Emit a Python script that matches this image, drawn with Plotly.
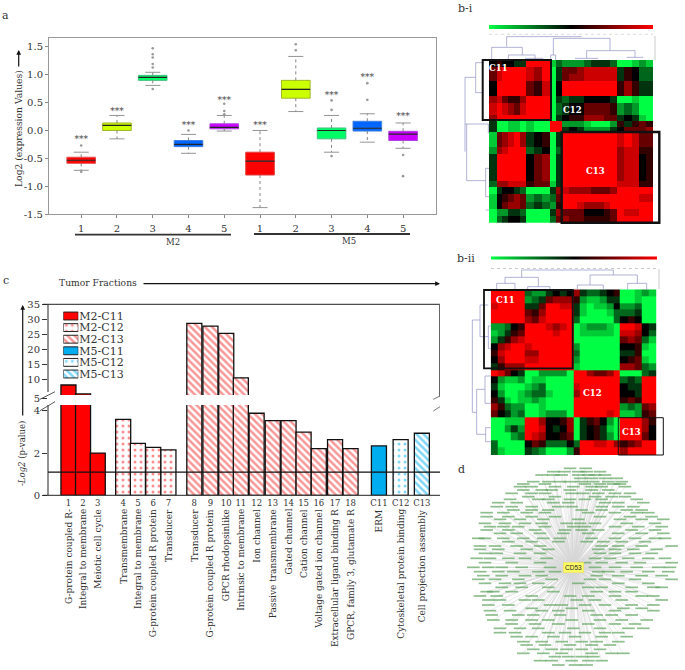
import plotly.graph_objects as go

W, H = 685, 670
SERIF = "DejaVu Serif"

# ---------- panel a ----------
box_groups = ["1", "2", "3", "4", "5", "1", "2", "3", "4", "5"]
box_pos = [1, 2, 3, 4, 5, 6, 7, 8, 9, 10]
box_q1 = [-0.59, 0.0, 0.90, -0.29, 0.03, -0.80, 0.58, -0.15, -0.01, -0.18]
box_med = [-0.535, 0.09, 0.955, -0.25, 0.055, -0.55, 0.74, 0.0, 0.04, -0.065]
box_q3 = [-0.48, 0.135, 0.99, -0.18, 0.12, -0.39, 0.90, 0.045, 0.165, -0.015]
box_low = [-0.715, -0.15, 0.81, -0.41, -0.01, -1.385, 0.34, -0.39, -0.21, -0.32]
box_up = [-0.39, 0.27, 1.045, -0.07, 0.27, 0.0, 1.33, 0.27, 0.30, 0.135]
box_out = [[-0.27, -0.74], [], [1.475, 1.37, 1.31, 1.195, 1.13, 0.745], [0.0],
           [0.48, 0.35, 0.29], [], [1.55, 1.44], [0.54, 0.37, -0.46], [0.85, 0.55], [-0.44, -0.82]]
box_fill = ["#ff0000", "#ccff00", "#00ff66", "#0066ff", "#cc00ff",
            "#ff0000", "#ccff00", "#00ff66", "#0066ff", "#cc00ff"]
box_edge = ["#e85050", "#a3b52a", "#40c080", "#4080e0", "#b040e0",
            "#e04040", "#a3b52a", "#40c080", "#4080e0", "#b040e0"]
star_pos = [1, 2, 4, 5, 6, 8, 9, 10]
star_y = [-0.17, 0.33, 0.09, 0.54, 0.09, 0.63, 0.94, 0.24]

# ---------- panel c ----------
bar_numbers = ["1", "2", "3", "4", "5", "6", "7", "8", "9", "10", "11", "12", "13", "14", "15",
               "16", "17", "18", "C11", "C12", "C13"]
bar_names = ["G-protein coupled R-", "Integral to membrane", "Meiotic cell cycle", "Transmembrane",
             "Integral to membrane", "G-protein coupled R protein", "Transducer", "Transducer",
             "G-protein coupled R protein", "GPCR rhodopsinlike", "Intrinsic to membrane", "Ion channel",
             "Passive transmembrane", "Gated channel", "Cation channel", "Voltage gated ion channel",
             "Extracellular ligand binding R", "GPCR, family 3, glutamate R", "ERM",
             "Cytoskeletal protein binding", "Cell projection assembly"]
bar_slots = [0, 0.94, 1.89, 3.53, 4.48, 5.47, 6.45, 8.12, 9.16, 10.18, 11.12, 12.14, 13.18, 14.2,
             15.17, 16.15, 17.2, 18.2, 20.03, 21.43, 22.8]
bar_values = [8, 5, 2.0, 3.6, 2.46, 2.27, 2.15, 28.6, 27.7, 25.3, 10.4, 3.89, 3.54, 3.54, 2.99,
              2.21, 2.64, 2.21, 2.34, 2.64, 2.94]
bar_group = [0, 0, 0, 1, 1, 1, 1, 2, 2, 2, 2, 2, 2, 2, 2, 2, 2, 2, 3, 4, 5]
group_names = ["M2-C11", "M2-C12", "M2-C13", "M5-C11", "M5-C12", "M5-C13"]
group_shape = ["", ".", "\\", "", ".", "\\"]
group_color = ["#ff0000", "#ff2020", "#f03030", "#00aeef", "#00aeef", "#00aeef"]
threshold = 1.1

# ---------- panels b (values: -5 bright green, 0 black, 5 bright red) ----------
heat_bi = [
 [0,1,0,0,-1,-1,5,5,5,-4,-2,-3,-3,-3,-2,-1,-1,-1,-2,-5,-5,-4,-3,-4],
 [2,4,5,5,5,5,4,3,5,-5,-1,2,2,3,4,4,4,4,4,-1,1,0,-2,-2],
 [2,4,5,5,5,5,4,3,5,-5,-1,2,3,3,4,4,4,4,4,-1,1,0,-2,-2],
 [0,5,5,5,5,5,2,1,4,-5,0,5,5,5,5,5,5,5,5,1,3,1,-1,-1],
 [0,5,5,5,5,5,2,1,4,-5,0,5,5,5,5,5,5,5,5,1,3,1,-1,-1],
 [3,4,2,1,1,3,5,5,5,-5,-1,-2,-1,-1,0,0,0,0,-1,-5,-5,-4,-5,-5],
 [4,5,4,3,2,4,5,5,5,-5,-2,-1,0,0,2,2,2,2,1,-3,-2,-3,-5,-5],
 [4,5,4,3,2,4,5,5,5,-5,-2,-1,0,0,2,2,2,2,1,-3,-2,-3,-5,-5],
 [3,5,5,5,5,5,5,5,5,-5,-1,0,1,1,3,3,3,2,2,-1,0,-1,-4,-5],
 [-1,-5,-5,-4,-4,-5,-4,-5,-5,5,5,-3,-3,-3,-4,-5,-5,-5,-3,1,-1,1,2,1],
 [-1,-5,-5,-4,-4,-5,-4,-5,-5,5,5,-1,0,-1,-3,-3,-3,-3,-1,0,2,2,2,3],
 [-4,2,3,4,5,3,-1,0,1,-5,-1,5,5,5,5,5,5,5,5,4,5,4,2,2],
 [-4,2,3,4,5,3,-1,0,1,-5,-1,5,5,5,5,5,5,5,5,4,5,4,2,2],
 [-3,3,4,5,5,5,-2,-1,0,-5,-2,5,5,5,5,5,5,5,5,3,4,4,1,1],
 [-1,5,5,5,5,5,0,2,3,-5,-1,5,5,5,5,5,5,5,5,3,4,4,0,1],
 [-1,5,5,5,5,5,0,2,3,-5,-1,5,5,5,5,5,5,5,5,3,4,4,0,1],
 [-1,5,5,5,5,5,0,2,3,-5,-1,5,5,5,5,5,5,5,5,3,4,4,0,1],
 [-1,5,5,5,5,5,0,2,3,-5,-1,5,5,5,5,5,5,5,5,3,4,4,0,1],
 [-2,3,3,4,4,4,1,2,2,-4,-1,5,5,5,5,5,5,5,5,4,4,4,1,1],
 [-5,-1,0,0,-1,-2,-5,-5,-5,-1,3,4,3,3,3,2,2,2,3,5,5,5,5,5],
 [-4,0,1,2,3,2,-3,-2,-3,-2,2,5,5,5,5,5,5,5,5,5,5,5,4,4],
 [-4,0,2,3,3,2,-2,-1,-2,-3,1,5,5,4,3,3,3,4,5,5,5,5,5,5],
 [-5,-3,-3,-1,-1,-2,-5,-5,-5,-1,3,2,2,2,0,0,0,1,2,5,4,4,5,5],
 [-5,-2,-1,0,0,-1,-5,-5,-5,-2,2,3,2,2,1,1,1,1,2,5,5,5,5,5],
]
bi_col_edges = [132,155,172,190,207,225,242,266,290,315,332,350,373,395,418,437,457,476,496,515,538,560,583,604,625]
bi_row_edges = [180,200,222,243,266,288,308,327,345,363,380,397,418,440,462,482,502,522,542,560,582,605,628,648,668]
heat_bii = [
 [5,5,5,5,5,-2,-3,-3,-1,0,-1,0,3,-1,-2,-2,-1,0,1,-5,-5,-4,-3,-4],
 [5,5,5,5,5,-3,-2,-1,2,3,3,3,1,-3,-4,-4,-3,-1,-1,-5,-5,-4,-5,-5],
 [4,5,5,5,5,-1,-1,2,5,5,4,4,-1,-4,-5,-4,-4,-3,0,-3,-3,-2,-5,-5],
 [5,5,5,5,5,2,1,3,5,5,5,5,-1,-4,-5,-5,-5,-4,-2,-2,-2,-1,-5,-5],
 [5,5,5,5,5,3,2,4,5,5,5,5,-2,-5,-5,-5,-5,-5,-2,0,1,0,-5,-5],
 [-3,-3,-2,0,1,5,5,5,4,3,4,5,-5,-4,-3,-3,-3,-4,-5,5,5,4,0,-1],
 [-4,-3,-1,1,2,5,5,5,5,4,5,5,-5,-4,-4,-4,-4,-4,-5,4,4,3,0,-2],
 [-3,-1,1,3,4,5,5,5,5,5,5,5,-5,-5,-5,-5,-5,-5,-5,2,3,2,-2,-4],
 [0,3,4,5,5,4,5,5,5,5,5,5,-3,-5,-5,-5,-5,-5,-5,0,0,1,-4,-5],
 [1,4,5,5,5,3,3,5,5,5,5,5,-2,-5,-5,-5,-5,-5,-5,-1,-1,1,-5,-5],
 [0,3,5,5,5,4,4,5,5,5,5,5,-3,-5,-5,-5,-5,-5,-5,0,1,2,-4,-5],
 [-1,1,3,3,3,5,5,5,5,5,5,5,-4,-5,-5,-5,-5,-5,-5,3,3,2,-2,-3],
 [5,4,2,0,-1,-5,-5,-3,-3,-3,-3,-5,5,5,3,2,2,3,5,-5,-5,-5,-2,-1],
 [0,-3,-4,-4,-3,-5,-4,-4,-5,-5,-5,-5,5,5,5,5,5,5,5,-2,-1,-2,5,5],
 [-1,-4,-5,-5,-5,-4,-3,-2,-5,-5,-5,-5,4,5,5,5,5,5,5,0,-1,-1,5,5],
 [0,-3,-5,-5,-4,-3,-2,-2,-4,-5,-5,-5,3,5,5,5,5,5,5,0,0,-1,5,5],
 [1,-1,-4,-5,-4,-4,-3,-4,-5,-5,-5,-5,5,5,5,5,5,5,5,1,2,1,5,5],
 [3,1,-2,-3,-3,-5,-5,-4,-5,-5,-5,-5,5,5,5,5,5,5,5,-3,-2,-3,2,3],
 [2,0,-1,-3,-2,-5,-5,-4,-3,-3,-3,-5,5,5,5,5,5,4,5,-4,-4,-3,1,2],
 [-5,-5,-4,-4,-4,5,5,3,0,0,1,3,-5,-1,1,2,0,-3,-5,5,5,5,3,1],
 [-5,-5,-3,-1,-3,5,5,4,0,-1,0,3,-5,-1,0,1,-1,-4,-5,5,5,5,3,0],
 [-5,-5,-5,-3,-2,5,4,3,0,0,1,2,-5,-1,0,1,-1,-3,-5,5,5,5,2,0],
 [-2,-5,-5,-5,-5,0,2,1,-2,-2,-2,0,-2,5,5,4,4,5,3,1,2,3,5,5],
 [-2,-4,-5,-5,-5,-1,-2,-3,-5,-5,-5,-3,1,5,5,5,5,5,5,3,5,5,5,5],
]
bii_col_edges = [137,157,178,198,219,240,261,282,302,323,344,364,385,405,425,445,465,485,505,525,547,568,590,612,634]
bii_row_edges = [148,168,189,209,230,250,270,290,310,330,350,370,390,410,431,451,471,491,512,532,555,577,600,622,645]

# dendrogram segments: (x0, y0, x1, y1), 3x crop units
dendro_bi = [
 (185,110,410,110),(185,110,185,140),(140,142,232,142),(140,142,140,180),(232,142,232,165),
 (190,165,270,165),(190,165,190,180),(270,165,270,180),(240,175,295,175),(325,115,495,115),
 (325,115,325,165),(317,165,332,165),(317,165,317,180),(332,165,332,180),(495,115,495,152),
 (425,152,570,152),(425,152,425,175),(390,175,460,175),(570,152,570,172),(545,172,595,172),
 (60,232,60,455),(60,232,92,232),(92,188,92,278),(92,188,118,188),(92,278,115,278),
 (60,372,130,372),(65,372,65,542),(65,542,122,542),(122,505,122,590),(122,505,132,505),
 (122,590,132,590),(122,630,132,630),(130,372,130,400),
]
dendro_bii = [
 (230,90,505,90),(230,90,230,112),(180,112,280,112),(180,112,180,130),(155,130,210,130),
 (155,130,155,148),(210,130,210,148),(280,112,280,140),(248,140,315,140),(248,140,248,148),
 (315,140,315,148),(505,90,505,105),(435,105,577,105),(435,105,435,135),(397,135,475,135),
 (397,135,397,148),(475,135,475,148),(577,105,577,130),(548,130,605,130),(548,130,548,148),
 (605,130,605,148),
 (82,240,82,517),(82,240,105,240),(105,195,105,290),(105,195,130,195),(105,290,130,290),
 (130,258,130,325),(130,258,137,258),(130,325,137,325),(82,517,95,517),(95,448,95,583),
 (95,448,120,448),(120,408,120,490),(120,408,137,408),(120,490,137,490),(95,583,122,583),
 (122,563,122,605),(122,563,137,563),(122,605,137,605),
]

hub_name = "CD53"
hub_xy = (384, 322)
node_y = [25,35,45,55,65,72,80,90,100,110,118,128,140,150,158,170,178,190,200,210,220,235,245,258,268,
          280,295,308,322,335,347,358,370,382,395,408,420,435,445,452,465,480,492,505,518,530,545,555,
          568,580,590,602,615]
node_x = [
 [375,422],[325,358,400,425,465],[290,325,350,400,430,450,480],[405,440,480,515],
 [265,310,345,375,410,445,490,530],[235,300,420,465,505,525],[225,260,330,385,440,470,540],
 [235,290,320,375,440,490],[200,260,300,380,415,460,510,555],[250,330,450,500,540],
 [195,280,310,375,420,470,575],[160,215,325,370,480,520,595],[155,200,260,340,380,470,520,565],
 [205,260,310,410,470,545,590],[125,175,245,300,430,510,575,610],[125,190,260,330,465,555,620],
 [165,225,295,400,525,590,655],[120,180,240,290,365,405,450,545,630],[135,175,220,300,385,420,510,580,650],
 [125,190,270,360,410,460,560,630],[165,215,285,355,430,520,590,655],
 [100,120,175,235,295,345,440,510,570,630,660],[190,260,340,425,475,530,600],
 [105,150,215,285,470,520,590,680],[105,160,245,310,460,510,565,635],[120,155,225,285,465,510,570,620],
 [95,135,190,240,305,450,495,550,610,660],[120,200,285,420,470,530,585,680],
 [85,130,170,230,315,450,510,575,640,675],[105,160,205,280,330,460,490,545,610,670],
 [115,170,240,290,455,520,590,650],[100,150,220,320,435,480,570,680],[120,180,225,280,400,520,610],
 [170,230,310,430,470,560,625,650],[125,145,200,325,455,510,560],[105,155,260,375,430,510,590,625],
 [130,165,240,280,395,450,530,650],[130,190,315,350,420,480,560,625],[260,380,535,590],
 [135,195,290,340,430,510,625],[140,220,265,345,455,500,560],[145,200,260,310,380,465,530,605],
 [200,270,340,430,510,570],[165,225,280,385,465,550,595],[165,210,310,360,420,480,520],
 [215,260,325,390,470,545],[235,290,350,410,455,520],[245,300,375,440,495],[265,320,365,410,465],
 [235,295,350,440,500,535],[330,370,410,445],[285,320,380,430,470],[340,390,425],
]

# ---------- geometry helpers (page pixels to paper fractions) ----------
def dx(a, b):
    return [a / W, b / W]

def dy(top, bottom):
    return [1 - bottom / H, 1 - top / H]

fig = go.Figure()

# panel a traces
for i, pos in enumerate(box_pos):
    fig.add_trace(go.Box(x=[pos], q1=[box_q1[i]], median=[box_med[i]], q3=[box_q3[i]],
                         lowerfence=[box_q1[i]], upperfence=[box_q3[i]], width=0.8, whiskerwidth=0,
                         fillcolor=box_fill[i], line=dict(color=box_edge[i], width=1),
                         boxpoints=False, showlegend=False, xaxis="x", yaxis="y"))

wx, wy, cx, cy, mx, my, ox, oy = [], [], [], [], [], [], [], []
for i, pos in enumerate(box_pos):
    wx += [pos, pos, None, pos, pos, None]
    wy += [box_q3[i], box_up[i], None, box_q1[i], box_low[i], None]
    cx += [pos - 0.21, pos + 0.21, None, pos - 0.21, pos + 0.21, None]
    cy += [box_up[i], box_up[i], None, box_low[i], box_low[i], None]
    mx += [pos - 0.4, pos + 0.4, None]
    my += [box_med[i], box_med[i], None]
    ox += [pos] * len(box_out[i])
    oy += box_out[i]
fig.add_trace(go.Scatter(x=wx, y=wy, mode="lines", line=dict(color="#777", width=0.9, dash="dot"),
                         showlegend=False, xaxis="x", yaxis="y"))
fig.add_trace(go.Scatter(x=cx, y=cy, mode="lines", line=dict(color="#888", width=0.9),
                         showlegend=False, xaxis="x", yaxis="y"))
fig.add_trace(go.Scatter(x=mx, y=my, mode="lines", line=dict(color="#222", width=1.2),
                         showlegend=False, xaxis="x", yaxis="y"))
fig.add_trace(go.Scatter(x=ox, y=oy, mode="markers", marker=dict(color="#999", size=2.6),
                         showlegend=False, xaxis="x", yaxis="y"))
fig.add_trace(go.Scatter(x=star_pos, y=star_y, mode="text", text=["***"] * len(star_pos),
                         textfont=dict(family=SERIF, size=9, color="#444"),
                         showlegend=False, xaxis="x", yaxis="y"))

# panel c traces (broken axis: same values on a lower and an upper y axis)
for g, name in enumerate(group_names):
    idx = [i for i, v in enumerate(bar_group) if v == g]
    xs = [bar_slots[i] for i in idx]
    ys = [bar_values[i] for i in idx]
    pat = dict(shape=group_shape[g], fgcolor=group_color[g], bgcolor="white",
               size=5 if group_shape[g] == "\\" else 6, solidity=0.5 if group_shape[g] == "\\" else 0.2)
    col = group_color[g] if group_shape[g] == "" else "white"
    for xa, ya in (("x2", "y2"), ("x3", "y3")):
        fig.add_trace(go.Bar(x=xs, y=ys, width=0.97, name=name, showlegend=False, xaxis=xa, yaxis=ya,
                             marker=dict(color=col, pattern=pat, line=dict(color="#111", width=1.3))))

fig.add_trace(go.Scatter(x=[-1.32, 23.97], y=[threshold, threshold], mode="lines",
                         line=dict(color="#111", width=1.1), showlegend=False, xaxis="x2", yaxis="y2"))

# legend drawn as a tiny horizontal bar chart, because its rows are tighter than a native legend allows
for g, name in enumerate(group_names):
    pat = dict(shape=group_shape[g], fgcolor=group_color[g], bgcolor="white",
               size=5 if group_shape[g] == "\\" else 6, solidity=0.5 if group_shape[g] == "\\" else 0.2)
    fig.add_trace(go.Bar(y=[name], x=[1], orientation="h", width=0.68, showlegend=False, xaxis="x4", yaxis="y4",
                         marker=dict(color=group_color[g] if group_shape[g] == "" else "white", pattern=pat,
                                     line=dict(color="#222", width=1))))

# panels b
scale = [[0, "#00ff44"], [0.5, "#000000"], [1, "#ff0000"]]
fig.add_trace(go.Heatmap(z=heat_bi, x=bi_col_edges, y=bi_row_edges, zmin=-5, zmax=5, colorscale=scale,
                         xaxis="x5", yaxis="y5",
                         colorbar=dict(orientation="h", x=489.3 / W, xanchor="left", y=1 - 26.7 / H, yanchor="middle",
                                       len=164 / W, thickness=4, thicknessmode="pixels", showticklabels=False,
                                       ticks="", outlinewidth=0, xpad=0, ypad=0)))
fig.add_trace(go.Heatmap(z=heat_bii, x=bii_col_edges, y=bii_row_edges, zmin=-5, zmax=5, colorscale=scale,
                         xaxis="x6", yaxis="y6",
                         colorbar=dict(orientation="h", x=490.7 / W, xanchor="left", y=1 - 258.3 / H, yanchor="middle",
                                       len=165.6 / W, thickness=3, thicknessmode="pixels", showticklabels=False,
                                       ticks="", outlinewidth=0, xpad=0, ypad=0)))

# panel d
ex, ey, nx, ny = [], [], [], []
for yy, xs in zip(node_y, node_x):
    for xx in xs:
        ex += [hub_xy[0], xx, None]
        ey += [hub_xy[1], yy, None]
        nx.append(xx)
        ny.append(yy)
fig.add_trace(go.Scatter(x=ex, y=ey, mode="lines", line=dict(color="#d6d6d6", width=0.5),
                         showlegend=False, xaxis="x7", yaxis="y7"))
fig.add_trace(go.Scatter(x=nx, y=ny, mode="markers", showlegend=False, xaxis="x7", yaxis="y7",
                         marker=dict(symbol="line-ew", size=9, opacity=0.7,
                                     line=dict(color="#5fa55f", width=1.7))))

# dendrograms on the full-page pixel axes
for seg_list, oy0 in ((dendro_bi, 0), (dendro_bii, 240)):
    xs, ys = [], []
    for a, b, c, d in seg_list:
        xs += [445 + a / 3, 445 + c / 3, None]
        ys += [oy0 + b / 3, oy0 + d / 3, None]
    fig.add_trace(go.Scatter(x=xs, y=ys, mode="lines", line=dict(color="#8f92c4", width=0.7),
                             showlegend=False, xaxis="x8", yaxis="y8"))

hidden = dict(visible=False, fixedrange=True)
serif10 = dict(family=SERIF, size=10, color="#333")
layout = dict(
    width=W, height=H, margin=dict(l=0, r=0, t=0, b=0, autoexpand=False), paper_bgcolor="white",
    plot_bgcolor="rgba(0,0,0,0)",
    barmode="overlay", boxmode="overlay", font=dict(family=SERIF, color="#333"),
    xaxis=dict(domain=dx(49, 436), range=[0.1, 10.92], tickvals=box_pos, ticktext=box_groups, ticks="outside",
               ticklen=3, tickcolor="#888", tickfont=serif10, showline=True, linecolor="#999", mirror=True,
               showgrid=False, zeroline=False, anchor="y", fixedrange=True, ticklabelstandoff=2),
    yaxis=dict(domain=dy(37.5, 214), range=[-1.5, 1.67], tickvals=[-1.5, -1, -0.5, 0, 0.5, 1, 1.5],
               ticktext=["-1.5", "-1.0", "-0.5", "0.0", "0.5", "1.0", "1.5"], ticks="outside", ticklen=3,
               tickcolor="#888", tickfont=serif10, showline=True, linecolor="#999", mirror=True,
               showgrid=False, zeroline=False, anchor="x", fixedrange=True),
    xaxis2=dict(domain=dx(48, 440), range=[-1.32, 23.97], tickvals=bar_slots, ticktext=bar_numbers, ticks="",
                tickfont=dict(family=SERIF, size=8.5, color="#333"), tickangle=0, showgrid=False, zeroline=False,
                anchor="y2", showline=False, fixedrange=True, ticklabelstandoff=1),
    yaxis2=dict(domain=dy(405, 495.3), range=[0, 4.28], tickvals=[0, 2, 4], ticks="outside", ticklen=5,
                tickcolor="#333", tickfont=serif10, showgrid=False, zeroline=False, anchor="x2", fixedrange=True),
    xaxis3=dict(domain=dx(48, 440), range=[-1.32, 23.97], visible=False, anchor="y3", fixedrange=True),
    yaxis3=dict(domain=dy(304.3, 398.7), range=[3.41, 35], tickvals=[3.41, 10, 15, 20, 25, 30, 35],
                ticktext=["5", "10", "15", "20", "25", "30", "35"], ticks="outside", ticklen=5, tickcolor="#333",
                tickfont=serif10, showgrid=False, zeroline=False, anchor="x3", fixedrange=True),
    xaxis4=dict(domain=dx(63.3, 78.3), range=[0, 1], visible=False, anchor="y4", fixedrange=True),
    yaxis4=dict(domain=dy(310.2, 379.8), type="category", categoryorder="array", categoryarray=group_names[::-1],
                tickmode="array", tickvals=group_names, ticktext=group_names,
                side="right", anchor="x4", ticks="", showline=False, showgrid=False, zeroline=False,
                tickfont=dict(family=SERIF, size=11, color="#333"), fixedrange=True),
    xaxis5=dict(domain=dx(489, 653.3), range=[132, 625], anchor="y5", **hidden),
    yaxis5=dict(domain=dy(60, 222.7), range=[668, 180], anchor="x5", **hidden),
    xaxis6=dict(domain=dx(490.7, 656.3), range=[137, 634], anchor="y6", **hidden),
    yaxis6=dict(domain=dy(289.3, 455), range=[645, 148], anchor="x6", **hidden),
    xaxis7=dict(domain=dx(445, 685), range=[0, 720], anchor="y7", **hidden),
    yaxis7=dict(domain=dy(460, 670), range=[630, 0], anchor="x7", **hidden),
    xaxis8=dict(domain=[0, 1], range=[0, W], anchor="y8", **hidden),
    yaxis8=dict(domain=[0, 1], range=[H, 0], anchor="x8", **hidden),
)

def seg(x0, y0, x1, y1, color="#222", width=1.0, dash=None):
    ln = dict(color=color, width=width)
    if dash:
        ln["dash"] = dash
    return dict(type="line", xref="x8", yref="y8", x0=x0, y0=y0, x1=x1, y1=y1, line=ln, layer="above")

def rect(x0, y0, x1, y1, color="#111", width=2.0, fill=None):
    return dict(type="rect", xref="x8", yref="y8", x0=x0, y0=y0, x1=x1, y1=y1, layer="above",
                line=dict(color=color, width=width), fillcolor=fill or "rgba(0,0,0,0)")

shapes = [
    # break band over the bars of panel c
    dict(type="rect", xref="x8", yref="y8", x0=49, x1=438, y0=395, y1=405, fillcolor="white",
         line=dict(width=0), layer="above"),
    # frame of panel c
    seg(43, 304.3, 440, 304.3), seg(48, 304.3, 48, 392), seg(48, 405, 48, 495.3), seg(43, 495.3, 440, 495.3),
    seg(439.5, 304.3, 439.5, 397, color="#666"),
    seg(40, 399.3, 55, 391.7, "#555"), seg(40, 410.7, 55, 401.7, "#555"),
    seg(433.3, 399.3, 440, 396, "#777"), seg(433.3, 411, 440, 406.7, "#777"),
    # group bars below panel a
    seg(75, 234.7, 231, 234.7, "#333", 1.8), seg(254, 234, 410, 234, "#333", 1.8),
    # rulers above the heatmaps
    seg(489, 34.3, 653, 34.3, "#ccc", 0.7, "dot"), seg(491, 268.5, 656, 268.5, "#bbb", 0.8, "dot"),
    # scale marks next to the top dendrograms
    seg(655, 36, 655, 60, "#aaa", 0.6), seg(659, 269, 659, 289, "#aaa", 0.6),
    # cluster frames
    rect(482.7, 60, 551, 120), rect(561.7, 132, 659.3, 222.7, width=2.4),
    rect(484, 290, 572.7, 368.3, width=1.8), rect(618.3, 417.7, 663.3, 455, width=1),
]

def note(x, y, text, size=9, color="#333", angle=0, xanchor="center", yanchor="middle", xref="x8", weight=None):
    d = dict(xref=xref, yref="y8", x=x, y=y, text=text, showarrow=False, textangle=angle, xanchor=xanchor,
             yanchor=yanchor, font=dict(family=SERIF, size=size, color=color))
    if weight:
        d["font"]["weight"] = weight
    return d

annotations = [
    note(5, 15, "a", 11), note(6, 280, "c", 11), note(465, 8, "b-i", 11), note(466, 258, "b-ii", 11),
    note(461, 469, "d", 11),
    note(18, 129, "Log2 (expression Values)", 9.2, angle=-90),
    note(173, 241.5, "M2", 8.5), note(349, 240.5, "M5", 8.5),
    note(98, 282.5, "Tumor Fractions", 9.2),
    note(22, 454, "-<i>Log2</i> (p-value)", 8.5, angle=-90),
    note(498, 68, "C11", 8.5, "white", weight=700), note(572.7, 110, "C12", 8.5, "white", weight=700),
    note(595, 171, "C13", 8.5, "white", weight=700), note(505, 300, "C11", 8.5, "white", weight=700),
    note(592.7, 392.7, "C12", 8.5, "white", weight=700), note(631, 432.3, "C13", 8.5, "white", weight=700),
    dict(xref="x8", yref="y8", x=445 + hub_xy[0] / 3, y=460 + hub_xy[1] / 3, text=hub_name, showarrow=False,
         bgcolor="#ffff66", bordercolor="#e8d860", borderwidth=0.5, borderpad=1.5,
         font=dict(family="Liberation Sans", size=6.5, color="#222")),
    dict(xref="x8", yref="y8", axref="x8", ayref="y8", x=18.7, y=50, ax=18.7, ay=68, text="", showarrow=True,
         arrowhead=2, arrowsize=0.8, arrowwidth=1.2, arrowcolor="#111"),
    dict(xref="x8", yref="y8", axref="x8", ayref="y8", x=22.7, y=305, ax=22.7, ay=417, text="", showarrow=True,
         arrowhead=2, arrowsize=0.8, arrowwidth=1.2, arrowcolor="#111"),
    dict(xref="x8", yref="y8", axref="x8", ayref="y8", x=440, y=283.7, ax=142, ay=283.7, text="", showarrow=True,
         arrowhead=2, arrowsize=0.8, arrowwidth=1.2, arrowcolor="#111"),
]
for slot, label in zip(bar_slots, bar_names):
    annotations.append(note(slot, 507, label, 9, angle=-90, yanchor="top", xref="x2"))

fig.update_layout(**layout, shapes=shapes, annotations=annotations)
fig.write_html("out.html", config={"displayModeBar": False},
               post_script="document.body.style.margin='0';document.documentElement.style.overflow='hidden';")
